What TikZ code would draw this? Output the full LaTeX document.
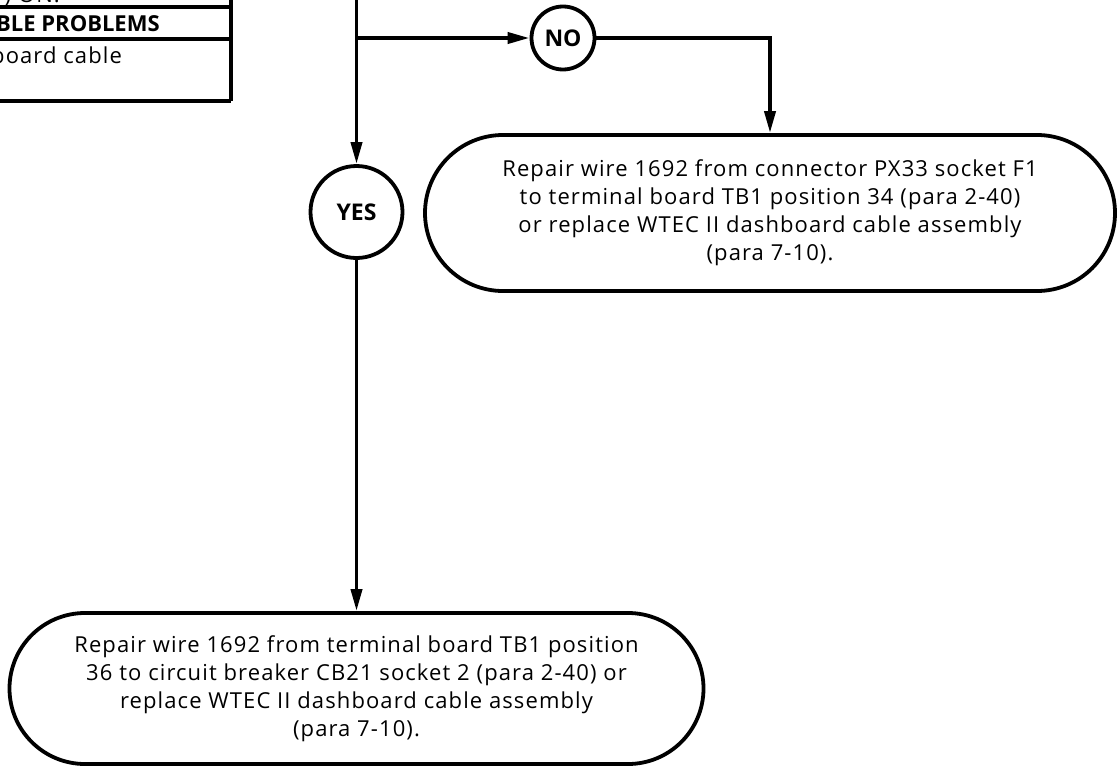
\documentclass[tikz,border=0pt]{standalone}
\usepackage{fontspec}
\setmainfont{Open Sans}
\newfontfamily\spacedfont{Open Sans}[LetterSpace=5]
\usetikzlibrary{arrows.meta,shapes.misc}
\begin{document}
\begin{tikzpicture}[x=1pt,y=-1pt,
  thick line/.style={line width=3.8pt},
  flow/.style={thick line,-{Triangle[length=22pt,width=11pt]}},
  decision/.style={circle,draw,thick line,inner sep=0pt,font=\fontsize{23}{26}\selectfont\bfseries},
  actionbox/.style={rounded rectangle,draw,thick line,inner sep=0pt,align=center,
    font=\spacedfont\fontsize{22}{28}\selectfont},
  tabletext/.style={inner sep=0pt,anchor=base west},
]
\useasboundingbox (0,0) rectangle (1118,771);

% partial table at top left
\draw[thick line] (-10,7) -- (231,7);
\draw[thick line] (-10,39) -- (231,39);
\draw[thick line] (-10,101) -- (231,101);
\draw[thick line] (231,-10) -- (231,101);
\node[inner sep=0pt,anchor=base east,font=\spacedfont\fontsize{22}{28}\selectfont] (t0) at (60,2.5) {y) ON.};
\node[tabletext,font=\fontsize{22}{26}\selectfont\bfseries] (t1) at (-4,31) {BLE PROBLEMS};
\node[tabletext,font=\spacedfont\fontsize{22}{28}\selectfont] (t2) at (-9,63) {board cable};

% decisions
\node[decision,minimum size=63pt] (no) at (563,38) {NO};
\node[decision,minimum size=92pt] (yes) at (356.5,212) {YES};

% action boxes
\node[actionbox,minimum width=690pt,minimum height=156pt] (ra) at (770,213)
  {\raisebox{-4pt}{\begin{tabular}{@{}c@{}}Repair wire 1692 from connector PX33 socket F1\\
   to terminal board TB1 position 34 (para 2-40)\\
   or replace WTEC II dashboard cable assembly\\
   (para 7-10).\end{tabular}}};
\node[actionbox,minimum width=694pt,minimum height=151pt] (ba) at (356.5,688.5)
  {\raisebox{-3pt}{\begin{tabular}{@{}c@{}}Repair wire 1692 from terminal board TB1 position\\
   36 to circuit breaker CB21 socket 2 (para 2-40) or\\
   replace WTEC II dashboard cable assembly\\
   (para 7-10).\end{tabular}}};

% connectors
\coordinate (top) at (356.5,-10);
\coordinate (br) at (356.5,38);
\coordinate (nr) at (770,38);
\draw[flow] (top) -- (yes.north);
\draw[flow] (br) -- (no.west);
\draw[flow] (no.east) -- (nr) -- (ra.north);
\draw[flow] (yes.south) -- (ba.north);
\end{tikzpicture}
\end{document}
